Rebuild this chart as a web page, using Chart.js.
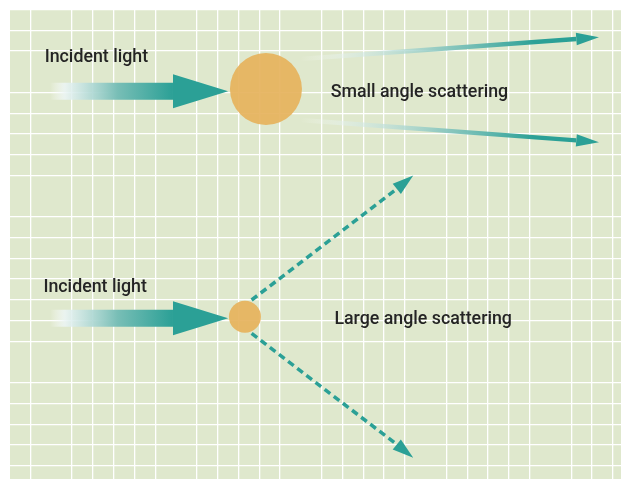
<!DOCTYPE html>
<html>
<head>
<meta charset="utf-8">
<title>Light scattering</title>
<script src="https://cdn.jsdelivr.net/npm/chart.js@4/dist/chart.umd.min.js"></script>
<style>
  html, body { margin: 0; padding: 0; background: #ffffff; }
  canvas { display: block; }
</style>
</head>
<body>
<canvas id="scatterChart" width="621" height="479"></canvas>
<script>
'use strict';

// ── DATA (grid units: x to the right, y rows downward) ───────

// visible grid lines (a few are missing in the original)
const gridCols = [0, 2, 3, 4, 5, 6, 8, 9, 10, 11, 12, 14, 15, 16, 17, 18, 20, 21, 22, 23, 24, 26, 27, 28];
const gridRows = [-1, 0, 1, 3, 4, 5, 6, 7, 9, 10, 11, 12, 13, 14, 15, 17, 18, 19, 20, 21];

// particles: large (top) and small (bottom)
const particleX = [11.32, 10.31];
const particleY = [2.83, 13.82];

// arrows: tail, head base, tip
const incidentX       = [0.94, 6.85, 9.50];
const incidentTopY    = [2.94, 2.94, 2.94];
const incidentBottomY = [13.89, 13.89, 13.89];

const smallX     = [12.96, 26.24, 27.33];
const smallUpY   = [1.38, 0.42, 0.34];
const smallDownY = [4.33, 5.31, 5.40];

const largeX     = [10.63, 17.61, 18.40];
const largeUpY   = [13.01, 7.65, 7.01];
const largeDownY = [14.62, 19.98, 20.62];

// labels (left edge, baseline)
const labelText = ['Incident light', 'Small angle scattering', 'Incident light', 'Large angle scattering'];
const labelX    = [0.68, 14.43, 0.62, 14.61];
const labelY    = [1.54, 3.20, 12.64, 14.17];

// ── STYLE ────────────────────────────────────────────────────

const TEAL  = '#2ba096';
const BG    = '#dfe8cd';
const SAND  = 'rgba(230,178,92,0.92)';
const INK   = '#242424';
const FONT  = "500 17.8px Roboto, 'DejaVu Sans', sans-serif";

const zip = (xs, ys) => xs.map((x, i) => ({ x, y: ys[i] }));

// gradient along the shaft, from tail to head base
function fade(stops) {
  return ctx => {
    const chart = ctx.chart;
    if (!chart.chartArea) return TEAL;
    const ds = chart.data.datasets[ctx.datasetIndex];
    const { x, y } = chart.scales;
    const a = ds.data[0], b = ds.data[1];
    const g = chart.ctx.createLinearGradient(
      x.getPixelForValue(a.x), y.getPixelForValue(a.y),
      x.getPixelForValue(b.x), y.getPixelForValue(b.y));
    stops.forEach(([o, c]) => g.addColorStop(o, c));
    return g;
  };
}

const incidentFade = fade([
  [0.00, 'rgba(255,255,255,0)'],
  [0.12, 'rgba(236,245,246,0.85)'],
  [0.55, 'rgba(120,190,182,1)'],
  [1.00, TEAL],
]);
const smallFade = fade([
  [0.00, 'rgba(255,255,255,0)'],
  [0.15, 'rgba(228,241,238,0.5)'],
  [0.50, 'rgba(140,200,193,0.9)'],
  [0.85, TEAL],
  [1.00, TEAL],
]);

// hide the last segment (head base -> tip), the head covers it
const hideHead = { borderColor: c => (c.p1DataIndex === 2 ? 'rgba(0,0,0,0)' : undefined) };

function arrow(xs, ys, width, headWidth, color, dash) {
  return {
    type: 'line',
    data: zip(xs, ys),
    borderColor: color,
    borderWidth: width,
    borderCapStyle: 'butt',
    borderDash: dash || [],
    pointRadius: 0,
    segment: hideHead,
    headWidth,
  };
}

// ── PLUGINS ──────────────────────────────────────────────────

const panelBg = {
  id: 'panelBg',
  beforeDraw(chart) {
    const { ctx, chartArea: a } = chart;
    ctx.save();
    ctx.fillStyle = BG;
    ctx.fillRect(a.left, a.top, a.right - a.left, a.bottom - a.top);
    ctx.restore();
  },
};

const arrowHeads = {
  id: 'arrowHeads',
  afterDatasetDraw(chart, args) {
    const ds = chart.data.datasets[args.index];
    if (!ds.headWidth) return;
    const base = args.meta.data[1], tip = args.meta.data[2];
    const dx = tip.x - base.x, dy = tip.y - base.y;
    const len = Math.hypot(dx, dy);
    const nx = -dy / len * ds.headWidth / 2;
    const ny =  dx / len * ds.headWidth / 2;
    const ctx = chart.ctx;
    ctx.save();
    ctx.fillStyle = TEAL;
    ctx.beginPath();
    ctx.moveTo(base.x + nx, base.y + ny);
    ctx.lineTo(tip.x, tip.y);
    ctx.lineTo(base.x - nx, base.y - ny);
    ctx.closePath();
    ctx.fill();
    ctx.restore();
  },
};

const labels = {
  id: 'labels',
  afterDatasetsDraw(chart) {
    const { ctx, scales: { x, y } } = chart;
    ctx.save();
    ctx.font = FONT;
    ctx.fillStyle = INK;
    ctx.textAlign = 'left';
    ctx.textBaseline = 'alphabetic';
    labelText.forEach((t, i) => {
      ctx.fillText(t, x.getPixelForValue(labelX[i]), y.getPixelForValue(labelY[i]));
    });
    ctx.restore();
  },
};

// ── CHART ────────────────────────────────────────────────────

const gridOpts = { color: '#ffffff', lineWidth: 1.3, drawTicks: false };

new Chart(document.getElementById('scatterChart'), {
  type: 'scatter',
  data: {
    datasets: [
      {
        label: 'Particles',
        data: zip(particleX, particleY),
        pointRadius: [36, 16],
        pointHoverRadius: [36, 16],
        pointBackgroundColor: SAND,
        pointBorderWidth: 0,
      },
      arrow(incidentX, incidentTopY, 17, 34, incidentFade),
      arrow(incidentX, incidentBottomY, 17, 34, incidentFade),
      arrow(smallX, smallUpY, 4.5, 12.5, smallFade),
      arrow(smallX, smallDownY, 4.5, 12.5, smallFade),
      arrow(largeX, largeUpY, 3.5, 13, TEAL, [7, 4.5]),
      arrow(largeX, largeDownY, 3.5, 13, TEAL, [7, 4.5]),
    ],
  },
  options: {
    responsive: false,
    devicePixelRatio: 1,
    animation: false,
    layout: { autoPadding: false, padding: { left: 10, top: 9, right: 0, bottom: 0 } },
    scales: {
      x: {
        type: 'linear',
        min: -0.9856,
        max: 28.389,
        ticks: { display: false },
        border: { display: false },
        grid: gridOpts,
        afterBuildTicks: s => { s.ticks = gridCols.map(v => ({ value: v })); },
      },
      y: {
        type: 'linear',
        reverse: true,
        min: -1.0275,
        max: 21.645,
        ticks: { display: false },
        border: { display: false },
        grid: gridOpts,
        afterBuildTicks: s => { s.ticks = gridRows.map(v => ({ value: v })); },
      },
    },
    plugins: {
      legend: { display: false },
      tooltip: { enabled: false },
    },
  },
  plugins: [panelBg, arrowHeads, labels],
});
</script>
</body>
</html>
